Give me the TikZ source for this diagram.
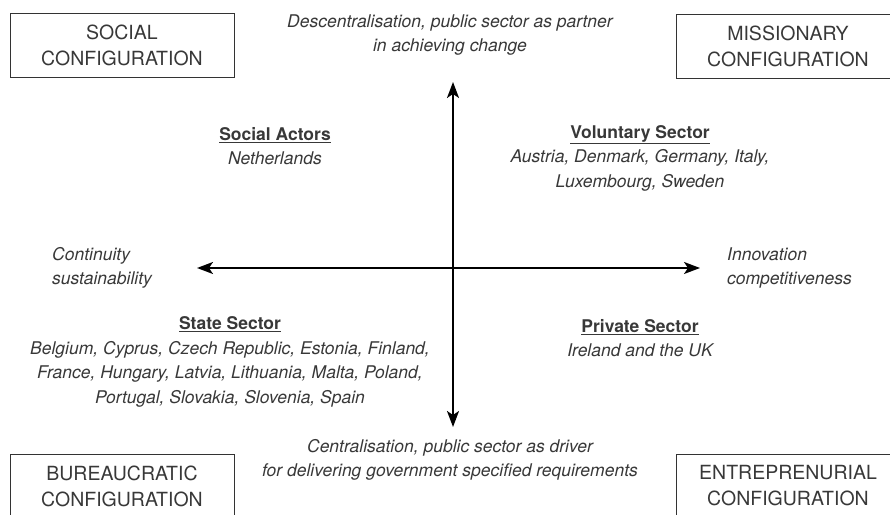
\documentclass[tikz,border=0pt]{standalone}
\usepackage{fontspec}
\setmainfont{TeX Gyre Heros}
\usetikzlibrary{arrows.meta}
\definecolor{txtgrey}{HTML}{383838}

\begin{document}
\begin{tikzpicture}[x=1pt,y=1pt,
    config/.style={draw=black!80,line width=0.9pt,minimum width=224pt,minimum height=64pt,
      align=center,text=txtgrey,font=\fontsize{19.5}{26}\selectfont},
    note/.style={text=txtgrey,font=\fontsize{17.5}{24.5}\selectfont\itshape,inner sep=0pt},
    axis/.style={line width=2pt,
      {Stealth[length=16pt,width=12pt,inset=4pt]}-{Stealth[length=16pt,width=12pt,inset=4pt]}}]
              \useasboundingbox (0,0) rectangle (890,514);
              % configurations in the corners
              \node[config] (social) at (122,469) {SOCIAL\\CONFIGURATION};
              \node[config] (missionary) at (788,468) {MISSIONARY\\CONFIGURATION};
              \node[config] (bureau) at (122,28) {BUREAUCRATIC\\CONFIGURATION};
              \node[config] (entre) at (788,28) {ENTREPRENURIAL\\CONFIGURATION};
              % axes
              \coordinate (top) at (453,432);
              \coordinate (bottom) at (453,87);
              \coordinate (left) at (197,246);
              \coordinate (right) at (700,246);
              \draw[axis] (bottom) -- (top);
              \draw[axis] (left) -- (right);
              % axis labels
              \node[note,align=center] (decentral) at (450,479)
                {Descentralisation, public sector as partner\\in achieving change};
              \node[note,align=center] (central) at (450,54)
                {Centralisation, public sector as driver\\for delivering government specified requirements};
              \node[note,align=left,anchor=west] (continuity) at (52,246)
                {Continuity\\sustainability};
              \node[note,align=left,anchor=west] (innovation) at (727,246)
                {Innovation\\competitiveness};
              % quadrants
              \node[note,align=center] (actors) at (275,368)
                {{\normalfont\bfseries\underline{Social Actors}}\\Netherlands};
              \node[note,align=center] (voluntary) at (640,356)
                {{\normalfont\bfseries\underline{Voluntary Sector}}\\Austria, Denmark, Germany, Italy,\\Luxembourg, Sweden};
              \node[note,align=center] (state) at (230,152)
                {{\normalfont\bfseries\underline{State Sector}}\\Belgium, Cyprus, Czech Republic, Estonia, Finland,\\France, Hungary, Latvia, Lithuania, Malta, Poland,\\Portugal, Slovakia, Slovenia, Spain};
              \node[note,align=center] (private) at (640,176)
                {{\normalfont\bfseries\underline{Private Sector}}\\Ireland and the UK};
            \end{tikzpicture}
\end{document}
